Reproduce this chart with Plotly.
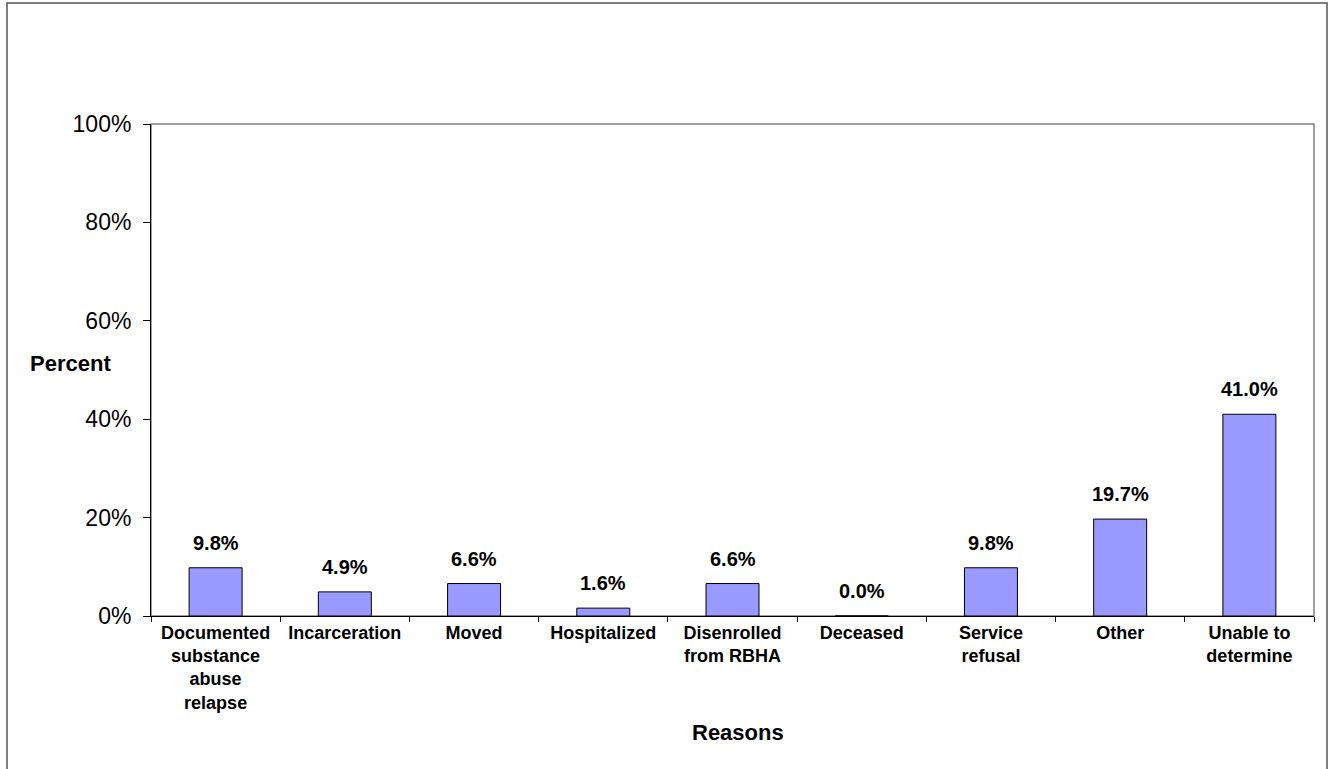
import plotly.graph_objects as go

categories = [
    "Documented<br>substance<br>abuse<br>relapse",
    "Incarceration",
    "Moved",
    "Hospitalized",
    "Disenrolled<br>from RBHA",
    "Deceased",
    "Service<br>refusal",
    "Other",
    "Unable to<br>determine",
]
values = [9.8, 4.9, 6.6, 1.6, 6.6, 0.0, 9.8, 19.7, 41.0]
value_labels = ["9.8%", "4.9%", "6.6%", "1.6%", "6.6%", "0.0%", "9.8%", "19.7%", "41.0%"]
y_ticks = [0, 20, 40, 60, 80, 100]
y_tick_labels = ["0%", "20%", "40%", "60%", "80%", "100%"]

FONT = "Liberation Sans, Arial, sans-serif"

fig = go.Figure()
fig.add_trace(go.Bar(
    x=categories,
    y=values,
    marker=dict(color="#9999FF", line=dict(color="#000000", width=1)),
    hoverinfo="skip",
))

annotations = []
for c, v, t in zip(categories, values, value_labels):
    annotations.append(dict(
        x=c, y=v, xref="x", yref="y", text="<b>%s</b>" % t,
        showarrow=False, yanchor="bottom", yshift=12,
        font=dict(family=FONT, size=20, color="#000000"),
    ))

annotations.append(dict(
    x=-0.033, y=0.514, xref="paper", yref="paper", text="<b>Percent</b>",
    showarrow=False, xanchor="right", yanchor="middle",
    font=dict(family=FONT, size=22, color="#000000"),
))
annotations.append(dict(
    x=0.505, y=-0.236, xref="paper", yref="paper", text="<b>Reasons</b>",
    showarrow=False, xanchor="center", yanchor="middle",
    font=dict(family=FONT, size=22, color="#000000"),
))

shapes = [
    # plot area box (top/right in gray)
    dict(type="rect", xref="paper", yref="paper", x0=0, x1=1, y0=0, y1=1,
         line=dict(color="#808080", width=1.5), layer="below"),
    # outer chart border
    dict(type="rect", xref="paper", yref="paper",
         x0=(7 - 151) / 1163, x1=(1327 - 151) / 1163,
         y0=(616 - 790) / 492, y1=(616 - 3) / 492,
         line=dict(color="#555555", width=1.5), layer="below"),
]

fig.update_layout(
    width=1332, height=769,
    margin=dict(l=151, r=18, t=124, b=153),
    paper_bgcolor="white", plot_bgcolor="white",
    bargap=0.59,
    showlegend=False,
    annotations=annotations,
    shapes=shapes,
    font=dict(family=FONT, color="#000000"),
)
fig.update_xaxes(
    type="category",
    showline=True, linecolor="#000000", linewidth=1,
    ticks="outside", tickson="boundaries", ticklen=5, tickcolor="#000000",
    tickfont=dict(family=FONT, size=18, color="#000000"),
    tickprefix="<b>", ticksuffix="</b>",
    showgrid=False, zeroline=False,
)
fig.update_yaxes(
    range=[0, 100],
    tickvals=y_ticks, ticktext=y_tick_labels,
    showline=True, linecolor="#000000", linewidth=1,
    ticks="outside", ticklen=7, tickcolor="#000000",
    ticklabelstandoff=7,
    tickfont=dict(family=FONT, size=23, color="#000000"),
    showgrid=False, zeroline=False,
)

fig.write_html("out.html")
